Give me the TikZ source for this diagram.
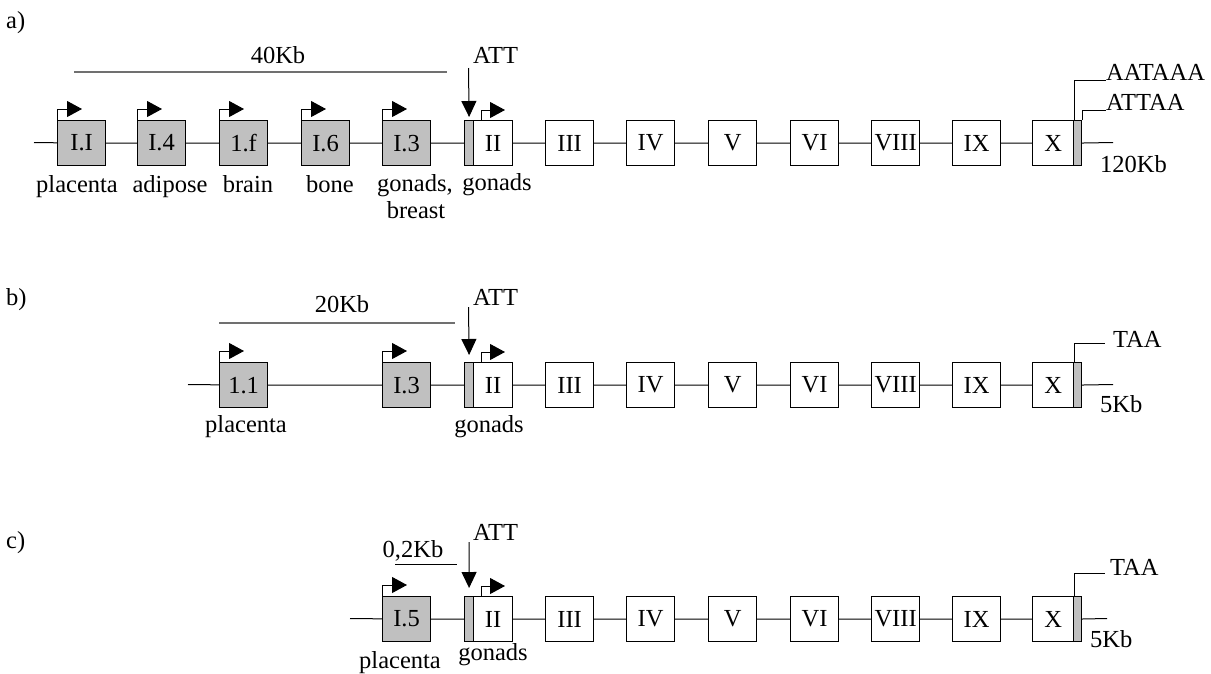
\documentclass[tikz,border=0pt]{standalone}
\usepackage{fontspec}
\setmainfont{Liberation Serif}
\usetikzlibrary{arrows.meta}
\definecolor{boxgray}{HTML}{C0C0C0}
\definecolor{scalegray}{HTML}{707070}
\begin{document}
\begin{tikzpicture}[x=1pt,y=-1pt,
  txt/.style={font=\fontsize{24.5}{28}\selectfont},
  exon/.style={txt, draw, line width=1.2pt, minimum width=48pt, minimum height=45pt, inner sep=0pt, anchor=north west},
  alt/.style={exon, fill=boxgray},
  strip/.style={draw, fill=boxgray, line width=1.2pt, minimum width=9pt, minimum height=45pt, inner sep=0pt, anchor=north west},
  lbl/.style={txt, inner sep=0pt, anchor=base},
  lblw/.style={txt, inner sep=0pt, anchor=base west},
  bb/.style={line width=1pt},
  prom/.style={line width=1pt, -{Triangle[length=15pt,width=16pt]}},
  att/.style={line width=1pt, -{Triangle[length=16pt,width=15pt]}},
  scalebar/.style={line width=1.3pt, scalegray},
  pa/.style={line width=1pt}]
\useasboundingbox (0,0) rectangle (1211,673);

% ---------------- row a ----------------
\node[lblw] (la) at (6,28) {a)};
\coordinate (a0) at (34,142.5);
\node[alt] (a1) at (57,120) {I.I};
\node[alt] (a2) at (137,120) {I.4};
\node[alt] (a3) at (219,120) {1.f};
\node[alt] (a4) at (301,120) {I.6};
\node[alt] (a5) at (382,120) {I.3};
\node[strip] (a6s) at (464,120) {};
\node[exon, minimum width=39pt] (a6) at (473,120) {II};
\node[exon] (a7) at (545,120) {III};
\node[exon] (a8) at (626,120) {IV};
\node[exon] (a9) at (708,120) {V};
\node[exon] (a10) at (790,120) {VI};
\node[exon] (a11) at (871,120) {VIII};
\node[exon] (a12) at (952,120) {IX};
\node[exon, minimum width=41pt] (a13) at (1032,120) {X};
\node[strip, minimum width=8pt] (a13s) at (1073,120) {};
\coordinate (aE) at (1113,142.5);
\draw[bb] (a0) -- (a1) (a1) -- (a2) (a2) -- (a3) (a3) -- (a4) (a4) -- (a5) (a5) -- (a6s)
  (a6) -- (a7) (a7) -- (a8) (a8) -- (a9) (a9) -- (a10) (a10) -- (a11) (a11) -- (a12) (a12) -- (a13) (a13s) -- (aE);
\foreach \n in {a1,a2,a3,a4,a5}{\draw[prom] (\n.north west) -- ++(0,-11) -- ++(25,0);}
\draw[prom] ([xshift=8pt]a6.north west) -- ++(0,-10) -- ++(24,0);
\coordinate (sa1) at (74,72); \coordinate (sa2) at (447,72);
\draw[scalebar] (sa1) -- (sa2);
\node[lbl] (ka) at (278,63) {40Kb};
\node[lblw] (atta) at (473,63) {ATT};
\coordinate (atas) at (468.5,68);
\draw[att] (atas) -- ([yshift=3pt]a6s.north);
\node[lblw] (pa1) at (1106,80) {AATAAA};
\node[lblw] (pa2) at (1106,110) {ATTAA};
\draw[pa] (a13.north east) |- (pa1.base west);
\draw[pa] (a13s.north east) |- (pa2.base west);
\node[lblw] (enda) at (1100,172) {120Kb};
\node[lbl] at (77,192) {placenta};
\node[lbl] at (170,192) {adipose};
\node[lbl] at (248,192) {brain};
\node[lbl] at (330,192) {bone};
\node[lbl] at (415,191) {gonads,};
\node[lbl] at (416,218) {breast};
\node[lbl] at (497,190) {gonads};

% ---------------- row b ----------------
\node[lblw] (lb) at (6,305) {b)};
\coordinate (b0) at (188,384.5);
\node[alt] (b1) at (219,362) {1.1};
\node[alt] (b2) at (382,362) {I.3};
\node[strip] (b3s) at (464,362) {};
\node[exon, minimum width=39pt] (b3) at (473,362) {II};
\node[exon] (b4) at (545,362) {III};
\node[exon] (b5) at (626,362) {IV};
\node[exon] (b6) at (708,362) {V};
\node[exon] (b7) at (790,362) {VI};
\node[exon] (b8) at (871,362) {VIII};
\node[exon] (b9) at (952,362) {IX};
\node[exon, minimum width=41pt] (b10) at (1032,362) {X};
\node[strip, minimum width=8pt] (b10s) at (1073,362) {};
\coordinate (bE) at (1113,384.5);
\draw[bb] (b0) -- (b1) (b1) -- (b2) (b2) -- (b3s)
  (b3) -- (b4) (b4) -- (b5) (b5) -- (b6) (b6) -- (b7) (b7) -- (b8) (b8) -- (b9) (b9) -- (b10) (b10s) -- (bE);
\foreach \n in {b1,b2}{\draw[prom] (\n.north west) -- ++(0,-11) -- ++(25,0);}
\draw[prom] ([xshift=8pt]b3.north west) -- ++(0,-10) -- ++(24,0);
\coordinate (sb1) at (219,323); \coordinate (sb2) at (455,323);
\draw[scalebar] (sb1) -- (sb2);
\node[lbl] (kb) at (342,312) {20Kb};
\node[lblw] (attb) at (473,305) {ATT};
\coordinate (atbs) at (468.5,307);
\draw[att] (atbs) -- ([yshift=7pt]b3s.north);
\node[lblw] (pb) at (1113,347) {TAA};
\coordinate (pbc) at (1105,343);
\draw[pa] (b10.north east) |- (pbc);
\node[lblw] (endb) at (1100,412) {5Kb};
\node[lbl] at (246,432) {placenta};
\node[lbl] at (489,432) {gonads};

% ---------------- row c ----------------
\node[lblw] (lc) at (6,548) {c)};
\coordinate (c0) at (350,618.5);
\node[alt] (c1) at (382,596) {I.5};
\node[strip] (c2s) at (464,596) {};
\node[exon, minimum width=39pt] (c2) at (473,596) {II};
\node[exon] (c3) at (545,596) {III};
\node[exon] (c4) at (626,596) {IV};
\node[exon] (c5) at (708,596) {V};
\node[exon] (c6) at (790,596) {VI};
\node[exon] (c7) at (871,596) {VIII};
\node[exon] (c8) at (952,596) {IX};
\node[exon, minimum width=41pt] (c9) at (1032,596) {X};
\node[strip, minimum width=8pt] (c9s) at (1073,596) {};
\coordinate (cE) at (1107,618.5);
\draw[bb] (c0) -- (c1) (c1) -- (c2s)
  (c2) -- (c3) (c3) -- (c4) (c4) -- (c5) (c5) -- (c6) (c6) -- (c7) (c7) -- (c8) (c8) -- (c9) (c9s) -- (cE);
\draw[prom] (c1.north west) -- ++(0,-11) -- ++(25,0);
\draw[prom] ([xshift=8pt]c2.north west) -- ++(0,-10) -- ++(24,0);
\coordinate (sc1) at (395,564); \coordinate (sc2) at (457,564);
\draw[bb] (sc1) -- (sc2);
\node[lbl] (kc) at (413,557) {0,2Kb};
\node[lblw] (attc) at (473,540) {ATT};
\coordinate (atcs) at (469,542);
\draw[att] (atcs) -- ([yshift=8pt]c2s.north);
\node[lblw] (pc) at (1110,575) {TAA};
\coordinate (pcc) at (1105,573);
\draw[pa] (c9.north east) |- (pcc);
\node[lblw] (endc) at (1090,647) {5Kb};
\node[lbl] at (400,668) {placenta};
\node[lbl] at (493,660) {gonads};
\end{tikzpicture}
\end{document}
